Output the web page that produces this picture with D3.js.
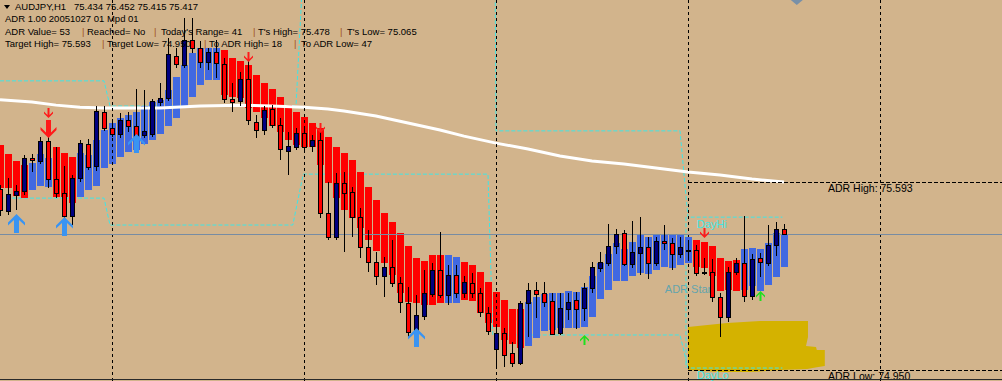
<!DOCTYPE html>
<html>
<head>
<meta charset="utf-8">
<script src="https://cdnjs.cloudflare.com/ajax/libs/d3/7.8.5/d3.min.js"></script>
<style>
	body { margin: 0; background: #d2b48c; overflow: hidden; }
	text { font-family: "Liberation Sans", Arial, sans-serif; }
</style>
</head>
<body>
<script>
// AUDJPY H1, bars 0..98 (oldest -> newest)
var open = [75.570,75.495,75.550,75.563,75.676,75.666,75.734,75.604,75.556,75.478,
	75.608,75.724,75.649,75.834,75.779,75.758,75.806,75.786,75.755,75.758,
	75.868,75.881,76.025,75.994,76.080,76.052,76.004,76.039,75.998,75.878,
	75.871,75.946,75.799,75.772,75.844,75.789,75.700,75.714,75.762,75.717,
	75.738,75.488,75.406,75.591,75.560,75.474,75.372,75.321,75.273,75.303,
	75.249,75.180,75.081,75.136,75.211,75.293,75.208,75.276,75.214,75.249,
	75.214,75.146,75.023,75.078,75.009,74.975,75.180,75.225,75.214,75.187,
	75.078,75.160,75.191,75.163,75.232,75.300,75.317,75.375,75.420,75.314,
	75.351,75.372,75.317,75.392,75.385,75.348,75.358,75.362,75.286,75.286,
	75.201,75.132,75.286,75.317,75.204,75.334,75.317,75.379,75.434];
var high = [75.584,75.608,75.584,75.686,75.690,75.748,75.765,75.714,75.649,75.618,
	75.738,75.741,75.854,75.854,75.810,75.830,75.834,75.912,75.909,75.878,
	75.933,76.087,76.052,76.155,76.155,76.076,76.052,76.080,76.018,75.933,
	75.970,76.018,75.823,75.854,75.857,75.813,75.765,75.779,75.779,75.755,
	75.779,75.594,75.625,75.628,75.577,75.505,75.430,75.355,75.338,75.396,
	75.269,75.235,75.208,75.293,75.317,75.423,75.310,75.310,75.273,75.283,
	75.232,75.167,75.098,75.095,75.047,75.187,75.249,75.252,75.252,75.214,
	75.214,75.214,75.218,75.249,75.321,75.355,75.450,75.433,75.430,75.461,
	75.474,75.406,75.406,75.447,75.403,75.406,75.385,75.379,75.334,75.331,
	75.214,75.303,75.334,75.478,75.348,75.351,75.447,75.457,75.452];
var low = [75.478,75.481,75.498,75.550,75.628,75.656,75.574,75.539,75.447,75.447,
	75.594,75.635,75.632,75.769,75.748,75.745,75.765,75.738,75.745,75.748,
	75.854,75.871,75.984,75.984,76.035,75.984,75.977,75.950,75.864,75.834,
	75.854,75.789,75.745,75.755,75.779,75.669,75.618,75.704,75.704,75.697,
	75.471,75.396,75.396,75.355,75.406,75.334,75.286,75.242,75.201,75.235,
	75.146,75.061,75.078,75.122,75.201,75.197,75.173,75.197,75.197,75.197,
	75.132,75.071,74.958,74.961,74.961,74.968,75.064,75.129,75.167,75.071,
	75.071,75.122,75.091,75.119,75.214,75.286,75.307,75.348,75.307,75.300,
	75.276,75.262,75.307,75.362,75.293,75.334,75.327,75.273,75.276,75.184,
	75.064,75.115,75.276,75.184,75.191,75.269,75.307,75.341,75.415];
var close = [75.498,75.553,75.563,75.676,75.669,75.734,75.604,75.556,75.478,75.608,
	75.727,75.645,75.837,75.779,75.758,75.806,75.786,75.751,75.769,75.871,
	75.881,76.032,75.998,76.080,76.052,76.004,76.039,76.001,75.878,75.868,
	75.946,75.806,75.772,75.840,75.789,75.707,75.717,75.762,75.714,75.738,
	75.488,75.406,75.591,75.556,75.474,75.372,75.321,75.273,75.303,75.249,
	75.184,75.081,75.139,75.214,75.293,75.208,75.276,75.214,75.252,75.214,
	75.149,75.085,75.078,75.002,74.975,75.180,75.225,75.211,75.184,75.074,
	75.163,75.184,75.160,75.232,75.303,75.321,75.375,75.416,75.314,75.355,
	75.372,75.317,75.392,75.385,75.348,75.372,75.362,75.283,75.283,75.201,
	75.132,75.286,75.317,75.204,75.331,75.321,75.379,75.433,75.417];

// heiken ashi bars as drawn
var haOpen = [75.721,75.690,75.666,75.652,75.567,75.580,75.577,75.714,75.693,75.680,
	75.543,75.567,75.580,75.642,75.656,75.680,75.697,75.704,75.724,75.738,
	75.758,75.786,75.813,75.854,75.885,75.926,75.943,75.943,76.046,76.018,
	76.008,75.994,75.960,75.933,75.912,75.885,75.857,75.834,75.816,75.796,
	75.779,75.748,75.714,75.693,75.669,75.628,75.577,75.533,75.488,75.457,
	75.420,75.375,75.334,75.324,75.344,75.344,75.180,75.180,75.321,75.310,
	75.286,75.252,75.218,75.191,75.160,75.160,75.033,75.061,75.085,75.088,
	75.095,75.095,75.095,75.098,75.132,75.194,75.225,75.256,75.256,75.273,
	75.283,75.279,75.293,75.303,75.300,75.310,75.317,75.396,75.389,75.375,
	75.334,75.324,75.327,75.225,75.238,75.221,75.242,75.269,75.303];
var haClose = [75.574,75.574,75.546,75.539,75.659,75.690,75.676,75.543,75.543,75.522,
	75.693,75.686,75.738,75.772,75.796,75.813,75.823,75.834,75.854,75.868,
	75.875,75.909,75.953,75.994,76.035,76.052,76.052,76.052,75.892,75.885,
	75.881,75.847,75.834,75.813,75.786,75.765,75.738,75.721,75.714,75.714,
	75.652,75.591,75.539,75.498,75.471,75.437,75.396,75.358,75.317,75.276,
	75.214,75.184,75.180,75.173,75.173,75.180,75.344,75.338,75.191,75.187,
	75.146,75.112,75.098,75.054,75.040,75.026,75.184,75.201,75.211,75.214,
	75.214,75.221,75.218,75.235,75.273,75.317,75.348,75.385,75.365,75.389,
	75.413,75.406,75.416,75.416,75.416,75.416,75.406,75.303,75.300,75.273,
	75.221,75.225,75.221,75.365,75.368,75.365,75.385,75.420,75.416];

// moving average (white)
var maBar = [0,4,7,10,13,20,25,30,34,38,41,43,47,51,55,58,62,66,70,74,78,82,86,90,94,98];
var maPrice = [75.875,75.868,75.857,75.850,75.847,75.847,75.854,75.857,75.854,75.850,75.844,75.837,75.820,
	75.796,75.772,75.751,75.727,75.707,75.683,75.666,75.656,75.642,75.628,75.618,75.604,75.594];

// ADR projection lines (cyan)
var upperBar = [0,13,13.75,37,37.75];
var upperPrice = [75.940,75.940,75.854,75.854,76.250];
var upperBar2 = [61.9,62,85,86,97.8];
var upperPrice2 = [76.250,75.769,75.769,75.474,75.474];
var lowerBar = [0,13,13.75,36.6,37.9,61,61.6,85,86,97.8];
var lowerPrice = [75.539,75.539,75.447,75.447,75.621,75.621,75.071,75.071,74.958,74.958];
var edgeBar = [85.75,85.75];
var edgePrice = [75.474,74.958];

var sepBars = [14,38,62,86,110];
var bid = 75.415, adrHigh = 75.593, adrLow = 74.950;

var redArrowBar = [6,31,40,88], redArrowPrice = [75.813,76.004,75.762,75.403];
var bigRedBar = [6], bigRedPrice = [75.745];
var blueArrowBar = [2,8,17,52], blueArrowPrice = [75.485,75.474,75.759,75.095];
var greenArrowBar = [73,95], greenArrowPrice = [75.071,75.221];

// hand drawn highlight
var blobBar = [86,90.875,95,101,101,100.75,102,102.1,103.1,103.1,102.1,100.9,97.5,93.75,90,86];
var blobPrice = [75.098,75.112,75.119,75.119,75.064,75.033,75.030,75.020,75.020,74.965,74.961,74.955,74.951,74.944,74.944,74.951];

var infoLines = [
	[["AUDJPY,H1", 15], ["75.434 75.452 75.415 75.417", 74]],
	[["ADR 1.00 20051027 01 Mpd 01", 5]],
	[["ADR Value= 53", 5], ["|", 82], ["Reached= No", 87], ["|", 154], ["Today's Range= 41", 161],
		["|", 253], ["T's High= 75.478", 258], ["|", 340], ["T's Low= 75.065", 347]],
	[["Target High= 75.593", 5], ["|", 102], ["Target Low= 74.950", 107], ["|", 204],
		["To ADR High= 18", 209], ["|", 294], ["To ADR Low= 47", 301]]
];

var width = 1002, height = 381;

var svg = d3.select("body").append("svg")
	.attr("width", width)
	.attr("height", height);

svg.append("rect")
	.attr("width", width)
	.attr("height", height)
	.attr("fill", "#d2b48c");

var x = d3.scaleLinear().domain([0, 125.25]).range([0, width]);
var y = d3.scaleLinear().domain([76.2165, 74.9136]).range([0, height]);

var bars = d3.range(open.length);

// highlight blob
svg.append("path")
	.attr("d", d3.line().x(function(d){ return x(blobBar[d]); }).y(function(d){ return y(blobPrice[d]); })(d3.range(blobBar.length)) + "Z")
	.attr("fill", "#d4b200");

svg.append("text")
	.attr("x", x(83.1))
	.attr("y", y(75.214))
	.attr("font-size", 11)
	.attr("fill", "#64a4ac")
	.text("ADR Start");

// cyan lines
var cyan = "#3fe6e6";
[[upperBar, upperPrice], [upperBar2, upperPrice2], [lowerBar, lowerPrice], [edgeBar, edgePrice]].forEach(function(s){
	svg.append("path")
		.attr("d", d3.line().x(function(d){ return x(s[0][d]); }).y(function(d){ return y(s[1][d]); })(d3.range(s[0].length)))
		.attr("fill", "none")
		.attr("stroke", cyan)
		.attr("stroke-width", 1)
		.attr("stroke-dasharray", "4,2");
});

// heiken ashi
svg.selectAll("rect.ha")
	.data(bars)
	.enter().append("rect")
	.attr("class", "ha")
	.attr("x", function(i){ return Math.round(x(i)) - 3; })
	.attr("y", function(i){ return Math.round(y(Math.max(haOpen[i], haClose[i]))); })
	.attr("width", 7)
	.attr("height", function(i){ return Math.max(1, Math.round(y(Math.min(haOpen[i], haClose[i]))) - Math.round(y(Math.max(haOpen[i], haClose[i])))); })
	.attr("fill", function(i){ return haClose[i] > haOpen[i] ? "#4169e1" : "#ff0000"; })
	.attr("shape-rendering", "crispEdges");

// moving average
svg.append("path")
	.attr("d", d3.line().x(function(d){ return x(maBar[d]); }).y(function(d){ return y(maPrice[d]); })(d3.range(maBar.length)))
	.attr("fill", "none")
	.attr("stroke", "#ffffff")
	.attr("stroke-width", 3);

// day separators
svg.selectAll("line.sep")
	.data(sepBars)
	.enter().append("line")
	.attr("class", "sep")
	.attr("x1", function(d){ return Math.round(x(d)) + 0.5; })
	.attr("x2", function(d){ return Math.round(x(d)) + 0.5; })
	.attr("y1", 0)
	.attr("y2", height)
	.attr("stroke", "#000")
	.attr("stroke-dasharray", "3,3");

// bid line
svg.append("line")
	.attr("x1", 0).attr("x2", width)
	.attr("y1", Math.round(y(bid)) + 0.5).attr("y2", Math.round(y(bid)) + 0.5)
	.attr("stroke", "#778ca3");

// ADR high / low
[adrHigh, adrLow].forEach(function(p){
	svg.append("line")
		.attr("x1", x(86)).attr("x2", width)
		.attr("y1", Math.round(y(p)) + 0.5).attr("y2", Math.round(y(p)) + 0.5)
		.attr("stroke", "#000")
		.attr("stroke-dasharray", "4,2");
});

// candles
svg.selectAll("line.wick")
	.data(bars)
	.enter().append("line")
	.attr("class", "wick")
	.attr("x1", function(i){ return Math.round(x(i)) + 0.5; })
	.attr("x2", function(i){ return Math.round(x(i)) + 0.5; })
	.attr("y1", function(i){ return Math.round(y(high[i])); })
	.attr("y2", function(i){ return Math.round(y(low[i])); })
	.attr("stroke", "#000");

svg.selectAll("rect.body")
	.data(bars)
	.enter().append("rect")
	.attr("class", "body")
	.attr("x", function(i){ return Math.round(x(i)) - 1.5; })
	.attr("y", function(i){ return Math.round(y(Math.max(open[i], close[i]))) + 0.5; })
	.attr("width", 4)
	.attr("height", function(i){ return Math.max(0, Math.round(y(Math.min(open[i], close[i]))) - Math.round(y(Math.max(open[i], close[i])))); })
	.attr("fill", function(i){ return close[i] > open[i] ? "#000080" : "#ff0000"; })
	.attr("stroke", "#000");

// arrows
var thinDown = "M0,0 L-4.5,-4.5 L-4.5,-6.5 L-1,-3 L-1,-10 L1,-10 L1,-3 L4.5,-6.5 L4.5,-4.5 Z";
var thinUp = "M0,0 L-4.5,4.5 L-4.5,6.5 L-1,3 L-1,10 L1,10 L1,3 L4.5,6.5 L4.5,4.5 Z";
var thickUp = "M0,0 L8.5,8.5 L8.5,11.5 L2.5,6 L2.5,19 L-2.5,19 L-2.5,6 L-8.5,11.5 L-8.5,8.5 Z";
var thickDown = "M0,0 L8,-8 L8,-11 L2.5,-5.5 L2.5,-18 L-2.5,-18 L-2.5,-5.5 L-8,-11 L-8,-8 Z";

function arrows(barsArr, prices, shape, color) {
	svg.selectAll(null)
		.data(d3.range(barsArr.length))
		.enter().append("path")
		.attr("d", shape)
		.attr("transform", function(d){ return "translate(" + (Math.round(x(barsArr[d])) + 0.5) + "," + Math.round(y(prices[d])) + ")"; })
		.attr("fill", color);
}
arrows(redArrowBar, redArrowPrice, thinDown, "#ff1a1a");
arrows(bigRedBar, bigRedPrice, thickDown, "#ff1a1a");
arrows(blueArrowBar, blueArrowPrice, thickUp, "#3a94f2");
arrows(greenArrowBar, greenArrowPrice, thinUp, "#1ee01e");

// labels on chart
svg.append("text").attr("x", x(87.1)).attr("y", y(75.474) + 11)
	.attr("font-size", 11).attr("fill", cyan).text("DayHi");
svg.append("text").attr("x", x(87.1)).attr("y", y(74.958) + 11)
	.attr("font-size", 11).attr("fill", cyan).text("DayLo");
svg.append("text").attr("x", x(103.5)).attr("y", y(adrHigh) + 10)
	.attr("font-size", 10.5).attr("fill", "#000").text("ADR High: 75.593");
svg.append("text").attr("x", x(103.5)).attr("y", y(adrLow) + 10)
	.attr("font-size", 10.5).attr("fill", "#000").text("ADR Low: 74.950");

// chart shift marker
svg.append("path")
	.attr("d", "M" + (x(99.6) - 6) + ",0 L" + (x(99.6) + 6) + ",0 L" + x(99.6) + ",5 Z")
	.attr("fill", "#7890a8");

// bottom frame
svg.append("line")
	.attr("x1", 0).attr("x2", width)
	.attr("y1", 379.5).attr("y2", 379.5)
	.attr("stroke", "#2a2a2a");

// info block
svg.append("path").attr("d", "M4,5 L10,5 L7,9 Z").attr("fill", "#000");

var baselines = [10, 22, 35, 47];
infoLines.forEach(function(line, k){
	line.forEach(function(part){
		svg.append("text")
			.attr("x", part[1])
			.attr("y", baselines[k])
			.attr("font-size", 9.5)
			.attr("fill", part[0] == "|" ? "#a0521e" : "#000")
			.text(part[0]);
	});
});
</script>
</body>
</html>
